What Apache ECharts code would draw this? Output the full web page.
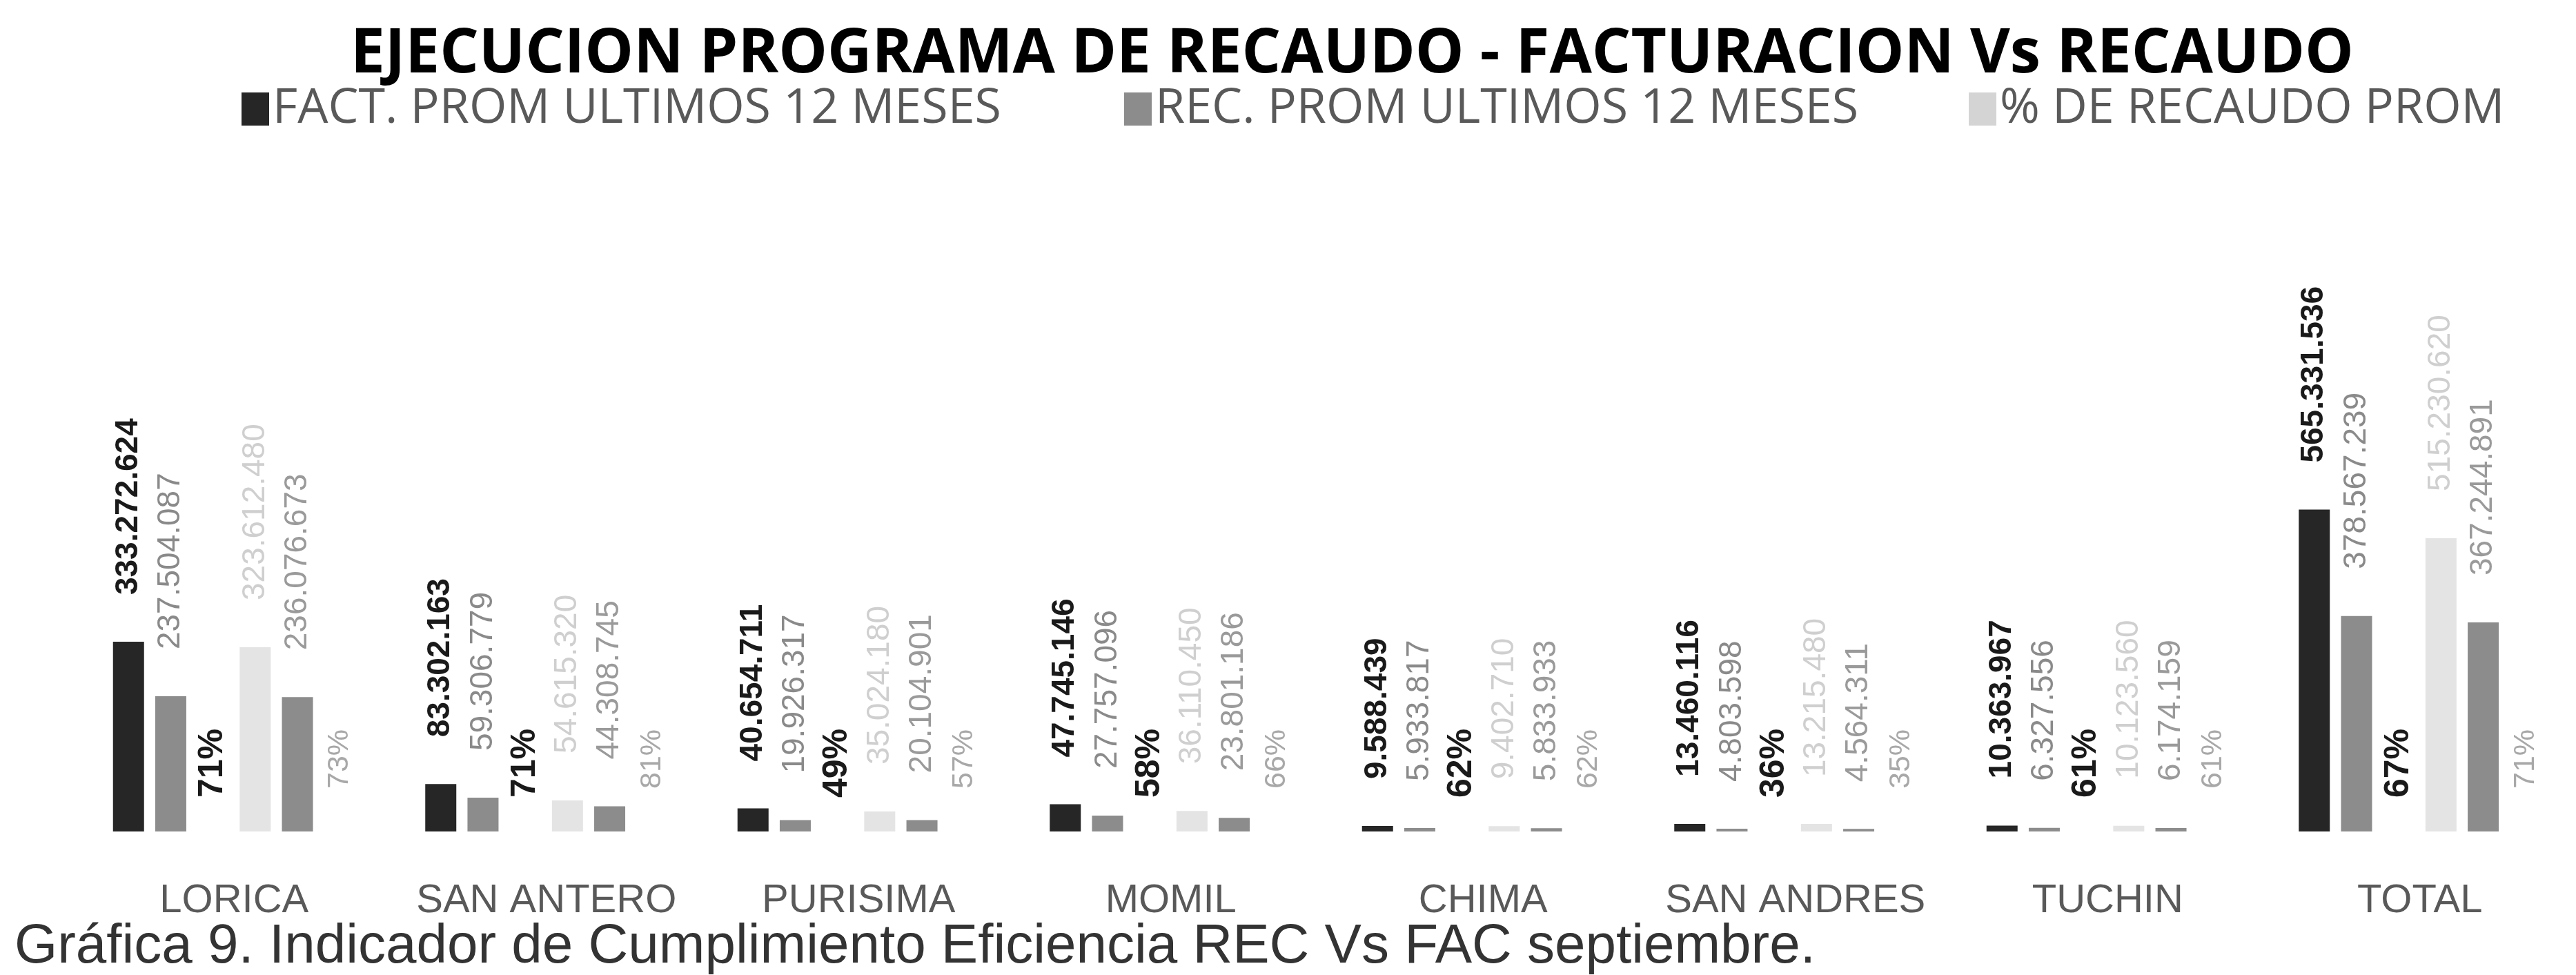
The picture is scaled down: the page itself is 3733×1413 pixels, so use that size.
<!DOCTYPE html>
<html>
<head>
<meta charset="utf-8">
<script src="https://cdn.jsdelivr.net/npm/echarts@6/dist/echarts.min.js"></script>
<style>
  html, body { margin: 0; padding: 0; background: #fff; }
  #chart { width: 3733px; height: 1413px; }
</style>
</head>
<body>
<div id="chart"></div>
<script>
// municipios
var categories = ['LORICA', 'SAN ANTERO', 'PURISIMA', 'MOMIL', 'CHIMA', 'SAN ANDRES', 'TUCHIN', 'TOTAL'];

// promedio ultimos 12 meses
var factProm = [333272624, 83302163, 40654711, 47745146, 9588439, 13460116, 10363967, 565331536];
var recProm = [237504087, 59306779, 19926317, 27757096, 5933817, 4803598, 6327556, 378567239];
var pctProm = [71, 71, 49, 58, 62, 36, 61, 67];

// mes septiembre
var factMes = [323612480, 54615320, 35024180, 36110450, 9402710, 13215480, 10123560, 515230620];
var recMes = [236076673, 44308745, 20104901, 23801186, 5833933, 4564311, 6174159, 367244891];
var pctMes = [73, 81, 57, 66, 62, 35, 61, 71];

var chart = echarts.init(document.getElementById('chart'));

function miles(v) {
  return String(v).replace(/\B(?=(\d{3})+(?!\d))/g, '.');
}

function rotLabel(color, size, bold, dist, pct) {
  return {
    show: true,
    position: 'top',
    rotate: 90,
    align: 'left',
    verticalAlign: 'middle',
    distance: dist,
    color: color,
    fontSize: size,
    fontWeight: bold ? 'bold' : 'normal',
    fontFamily: 'Liberation Sans',
    formatter: function (p) {
      return pct ? p.value + '%' : miles(p.value);
    }
  };
}

var legendText = { color: '#595959', fontSize: 70, fontFamily: 'Open Sans' };

chart.setOption({
  animation: false,
  backgroundColor: '#fff',
  title: [{
    text: 'EJECUCION PROGRAMA DE RECAUDO - FACTURACION Vs RECAUDO',
    left: 503,
    top: 30,
    textStyle: { fontSize: 89, fontWeight: 'bold', color: '#000', fontFamily: 'Open Sans' }
  }, {
    text: 'Gráfica 9. Indicador de Cumplimiento Eficiencia REC Vs FAC septiembre.',
    left: 16,
    top: 1328,
    textStyle: { fontSize: 80, fontWeight: 'normal', color: '#333', fontFamily: 'Liberation Sans' }
  }],
  legend: [{
    data: ['FACT. PROM ULTIMOS 12 MESES'],
    left: 345, top: 118, icon: 'rect', itemWidth: 40, itemHeight: 48, textStyle: legendText
  }, {
    data: ['REC. PROM ULTIMOS 12 MESES'],
    left: 1624, top: 118, icon: 'rect', itemWidth: 40, itemHeight: 48, textStyle: legendText
  }, {
    data: ['% DE RECAUDO PROM'],
    left: 2848, top: 118, icon: 'rect', itemWidth: 40, itemHeight: 48, textStyle: legendText
  }],
  grid: {
    left: 113,
    top: 545,
    width: 3670,
    height: 660,
    containLabel: false
  },
  xAxis: {
    type: 'category',
    data: categories,
    axisLine: { show: false },
    axisTick: { show: false },
    axisLabel: {
      interval: 0,
      margin: 72,
      color: '#595959',
      fontSize: 58,
      fontFamily: 'Liberation Sans'
    }
  },
  yAxis: {
    type: 'value',
    min: 0,
    max: 800000000,
    show: false,
    splitLine: { show: false }
  },
  series: [{
    name: 'FACT. PROM ULTIMOS 12 MESES',
    type: 'bar',
    data: factProm,
    barWidth: 45,
    barGap: '36%',
    itemStyle: { color: '#262626' },
    label: rotLabel('#1a1a1a', 46, true, 68, false)
  }, {
    name: 'REC. PROM ULTIMOS 12 MESES',
    type: 'bar',
    data: recProm,
    barWidth: 45,
    itemStyle: { color: '#8c8c8c' },
    label: rotLabel('#8a8a8a', 46, false, 68, false)
  }, {
    name: '% DE RECAUDO PROM',
    type: 'bar',
    data: pctProm,
    barWidth: 45,
    itemStyle: { color: '#d4d4d4' },
    label: rotLabel('#1a1a1a', 50, true, 49, true)
  }, {
    name: 'FACT. SEPTIEMBRE',
    type: 'bar',
    data: factMes,
    barWidth: 45,
    itemStyle: { color: '#e4e4e4' },
    label: rotLabel('#cfcfcf', 46, false, 68, false)
  }, {
    name: 'REC. SEPTIEMBRE',
    type: 'bar',
    data: recMes,
    barWidth: 45,
    itemStyle: { color: '#8c8c8c' },
    label: rotLabel('#9a9a9a', 46, false, 68, false)
  }, {
    name: '% DE RECAUDO SEPTIEMBRE',
    type: 'bar',
    data: pctMes,
    barWidth: 45,
    itemStyle: { color: '#dcdcdc' },
    label: rotLabel('#a8a8a8', 43, false, 62, true)
  }]
});
</script>
</body>
</html>
